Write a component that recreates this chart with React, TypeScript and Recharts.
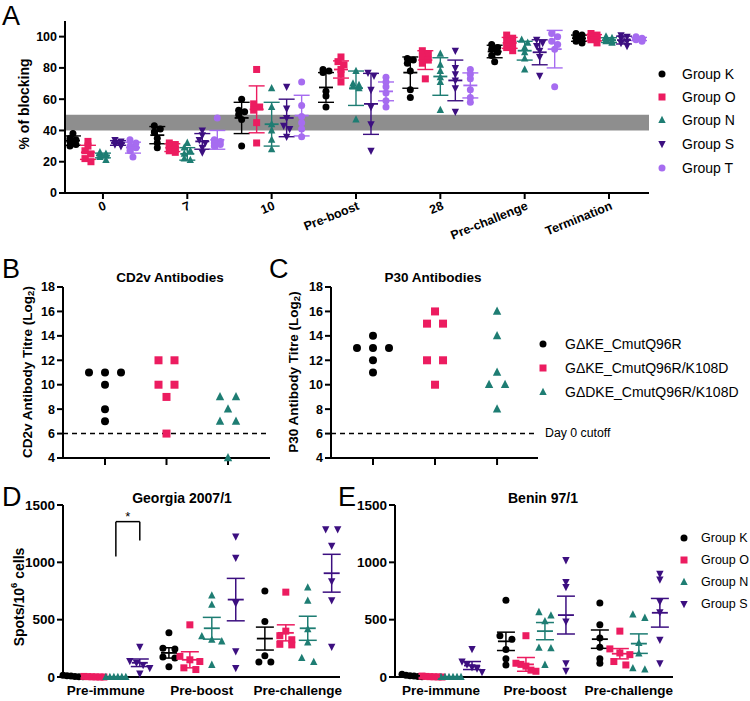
import React from 'react';
import { ScatterChart, Scatter, XAxis, YAxis, ErrorBar, ReferenceArea, ReferenceLine } from 'recharts';

const FONT = '"Liberation Sans", Arial, Helvetica, sans-serif';

// ---------------- Panel A : % of blocking ----------------
const blockTimepoints = ['0', '7', '10', 'Pre-boost', '28', 'Pre-challenge', 'Termination'];
const blockGroupNames = ['Group K', 'Group O', 'Group N', 'Group S', 'Group T'];

const blockK = [
  [38, 35, 34, 33, 31, 30],
  [43, 41, 39, 35, 32, 29],
  [60, 53, 52, 50, 47, 30],
  [79, 78, 77, 65, 62, 55],
  [86, 85, 83, 78, 66, 61],
  [95, 93, 92, 90, 88, 84],
  [102, 101, 100, 98, 97, 96],
];
const blockKMean = [33.5, 37, 48, 67.5, 77, 90.5, 99];
const blockKSd = [3, 5.5, 10, 9.5, 10, 4, 2];

const blockO = [
  [33, 30, 27, 25, 22, 20],
  [32, 31, 30, 28, 27, 26],
  [79, 57, 55, 53, 45, 32],
  [87, 84, 82, 79, 76, 71],
  [91, 89, 87, 85, 83, 73],
  [101, 99, 97, 95, 93, 91],
  [102, 101, 100, 99, 98, 96],
];
const blockOMean = [26, 29, 53.5, 79, 85, 96, 99.3];
const blockOSd = [4.5, 2.5, 15, 5.5, 6, 3.5, 2];

const blockN = [
  [26, 25, 24, 24, 23, 21],
  [32, 29, 27, 25, 22, 21],
  [67, 55, 44, 40, 34, 28],
  [78, 70, 69, 68, 67, 47],
  [89, 82, 78, 74, 71, 53],
  [98, 96, 93, 90, 86, 79],
  [100, 99, 98, 97, 97, 96],
];
const blockNMean = [24, 25, 44, 67, 74.5, 91, 97.8];
const blockNSd = [1.5, 4, 14, 11, 12, 6, 1.5];

const blockS = [
  [34, 33, 32, 31, 31, 30],
  [40, 37, 34, 32, 29, 26],
  [68, 54, 48, 43, 41, 36],
  [77, 75, 66, 55, 44, 27],
  [91, 80, 76, 72, 67, 52],
  [98, 96, 94, 91, 87, 75],
  [101, 100, 99, 97, 96, 94],
];
const blockSMean = [32, 33, 48, 57, 72, 90, 97.8];
const blockSSd = [1.5, 5, 12, 19.5, 13, 8, 2.5];

const blockT = [
  [34, 32, 30, 29, 27, 23],
  [48, 34, 33, 32, 31, 30],
  [71, 56, 49, 45, 41, 36],
  [74, 71, 68, 64, 59, 55],
  [79, 76, 73, 66, 61, 58],
  [102, 100, 97, 95, 92, 68],
  [100, 99, 99, 98, 98, 97],
];
const blockTMean = [29, 34, 49.5, 65, 68.8, 92, 98.5];
const blockTSd = [3.5, 6, 13, 6, 8, 12, 1];

const blockBand = [40, 50];

// ---------------- Panels B & C : antibody titres ----------------
const titreGroupNames = ['GΔKE_CmutQ96R', 'GΔKE_CmutQ96R/K108D', 'GΔDKE_CmutQ96R/K108D'];
const cd2vK = [11, 11, 11, 10, 8, 7];
const cd2vO = [12, 12, 10, 10, 9, 6];
const cd2vN = [9, 9, 8, 7, 7, 4];
const p30K = [14, 13, 13, 13, 12, 11];
const p30O = [16, 15, 15, 12, 12, 10];
const p30N = [16, 14, 11, 10, 10, 8];
const day0Cutoff = 6;

// ---------------- Panels D & E : ELISpot ----------------
const elispotStages = ['Pre-immune', 'Pre-boost', 'Pre-challenge'];
const elispotGroupNames = ['Group K', 'Group O', 'Group N', 'Group S'];

const georgiaK = [[15, 10, 8, 5, 3, 2], [385, 250, 245, 175, 165, 90], [750, 485, 185, 130, 130]];
const georgiaKMean = [7, 210, 335];
const georgiaKSem = [2, 45, 100];
const georgiaO = [[5, 3, 2, 1, 0, 0], [455, 180, 150, 135, 80, 65], [740, 400, 360, 325, 285, 280]];
const georgiaOMean = [2, 150, 385];
const georgiaOSem = [1, 70, 70];
const georgiaN = [[0, 0, 0, 0, 0, 0], [710, 630, 355, 325, 310, 105], [780, 665, 415, 300, 165, 130]];
const georgiaNMean = [0, 425, 425];
const georgiaNSem = [0, 95, 105];
const georgiaS = [[265, 140, 125, 105, 80, 30], [1225, 1040, 645, 225, 80], [1290, 1290, 1145, 835, 670, 265]];
const georgiaSMean = [124, 675, 905];
const georgiaSSem = [33, 185, 165];
const georgiaSig = { label: '*', leftLow: 1050, rightLow: 1190, top: 1355 };

const beninK = [[25, 15, 10, 8, 5, 3], [670, 360, 330, 240, 160, 105], [645, 455, 340, 260, 160, 120]];
const beninKMean = [10, 311, 330];
const beninKSem = [3, 80, 80];
const beninO = [[8, 5, 3, 2, 1, 0], [360, 120, 110, 95, 60, 50], [400, 245, 210, 195, 135, 105]];
const beninOMean = [3, 110, 203];
const beninOSem = [1, 60, 45];
const beninN = [[0, 0, 0, 0, 0, 0], [565, 535, 485, 255, 250, 105], [545, 515, 295, 205, 75, 65]];
const beninNMean = [0, 400, 291];
const beninNSem = [0, 75, 85];
const beninS = [[245, 135, 110, 85, 75, 45], [1020, 830, 785, 485, 120, 55], [900, 850, 660, 565, 325, 120]];
const beninSMean = [100, 540, 560];
const beninSSem = [35, 165, 125];

// ---------------- styles ----------------
type Shape = 'circle' | 'square' | 'up' | 'down';
const groupColors = ['#000000', '#ec1c60', '#1e7d73', '#3c0f80', '#a66cf0'];
const groupShapes: Shape[] = ['circle', 'square', 'up', 'down', 'circle'];

function Marker({ shape, cx, cy, size, color }: { shape: Shape; cx: number; cy: number; size: number; color: string }) {
  if (cx == null || cy == null || isNaN(cx) || isNaN(cy)) return null;
  const h = size / 2;
  if (shape === 'circle') return <circle cx={cx} cy={cy} r={h} fill={color} />;
  if (shape === 'square') return <rect x={cx - h} y={cy - h} width={size} height={size} fill={color} />;
  if (shape === 'up')
    return <polygon points={`${cx},${cy - size * 0.62} ${cx - h * 1.05},${cy + size * 0.42} ${cx + h * 1.05},${cy + size * 0.42}`} fill={color} />;
  return <polygon points={`${cx},${cy + size * 0.62} ${cx - h * 1.05},${cy - size * 0.42} ${cx + h * 1.05},${cy - size * 0.42}`} fill={color} />;
}

// layout helper: horizontal spreading of overlapping points (pixel offsets)
function spreadOffsets(vals: number[], tol: number, step: number, maxW: number, zigzag: boolean): number[] {
  const order = vals.map((_, i) => i).sort((a, b) => vals[b] - vals[a]);
  const out = vals.map(() => 0);
  let cluster: number[] = [];
  const flush = () => {
    const n = cluster.length;
    if (n > 1) {
      if (zigzag) {
        cluster.forEach((id, k) => (out[id] = (k % 2 === 0 ? -1 : 1) * step));
      } else {
        const s = Math.min(step, maxW / (n - 1));
        cluster.forEach((id, k) => (out[id] = (k - (n - 1) / 2) * s));
      }
    }
    cluster = [];
  };
  order.forEach((id) => {
    if (cluster.length && Math.abs(vals[cluster[cluster.length - 1]] - vals[id]) > tol) flush();
    cluster.push(id);
  });
  flush();
  return out;
}

const axisLine = { stroke: '#000', strokeWidth: 2 };
const tickLine = { stroke: '#000', strokeWidth: 2 };
const boldTick = (size: number) => ({ fontSize: size, fontWeight: 'bold', fill: '#000', fontFamily: FONT });

// ---------------- Panel A chart ----------------
const A_PX = 84.33;
const aGroupOffsets = [-30, -15, 0, 15, 30];
const aSeries = [blockK, blockO, blockN, blockS, blockT];
const aMeans = [blockKMean, blockOMean, blockNMean, blockSMean, blockTMean];
const aSds = [blockKSd, blockOSd, blockNSd, blockSSd, blockTSd];

const RotTick = (props: any) => {
  const { x, y, payload } = props;
  const tx = x + 4;
  const ty = y + 8;
  return (
    <text x={tx} y={ty} textAnchor="end" transform={`rotate(-22, ${tx}, ${ty})`} fontSize={12.5} fontWeight="bold" fontFamily={FONT} fill="#000">
      {blockTimepoints[payload.value]}
    </text>
  );
};

function PanelA() {
  const pointData = aSeries.map((series, g) =>
    series.flatMap((vals, t) => {
      const offs = spreadOffsets(vals, 2.5, 3, 6, true);
      return vals.map((v, i) => ({ x: t + (aGroupOffsets[g] + offs[i]) / A_PX, y: v }));
    })
  );
  const meanData = aMeans.map((means, g) => means.map((m, t) => ({ x: t + aGroupOffsets[g] / A_PX, y: m, err: aSds[g][t] })));
  return (
    <ScatterChart width={750} height={260} margin={{ top: 21, right: 101, bottom: 7, left: 8 }}>
      <XAxis type="number" dataKey="x" domain={[-0.45, 6.474]} ticks={[0, 1, 2, 3, 4, 5, 6]} interval={0}
        height={60} axisLine={axisLine} tickLine={tickLine} tickSize={6} tick={<RotTick />} />
      <YAxis type="number" dataKey="y" domain={[0, 110]} ticks={[0, 20, 40, 60, 80, 100]} interval={0}
        width={57} axisLine={axisLine} tickLine={tickLine} tick={boldTick(12.5)} />
      <ReferenceArea y1={blockBand[0]} y2={blockBand[1]} fill="#8e8e8e" fillOpacity={1} stroke="none" />
      {pointData.map((d, g) => (
        <Scatter key={'p' + g} data={d} isAnimationActive={false}
          shape={(p: any) => <Marker shape={groupShapes[g]} cx={p.cx} cy={p.cy} size={7} color={groupColors[g]} />} />
      ))}
      {meanData.map((d, g) => (
        <Scatter key={'m' + g} data={d} isAnimationActive={false}
          shape={(p: any) => <line x1={p.cx - 7} x2={p.cx + 7} y1={p.cy} y2={p.cy} stroke={groupColors[g]} strokeWidth={1.8} />}>
          <ErrorBar dataKey="err" direction="y" width={8} stroke={groupColors[g]} strokeWidth={1.4} isAnimationActive={false} />
        </Scatter>
      ))}
    </ScatterChart>
  );
}

// ---------------- Panels B / C ----------------
function TitreChart({ series, domainX, pxPerUnit, width }: { series: number[][]; domainX: [number, number]; pxPerUnit: number; width: number }) {
  const data = series.map((vals, g) => {
    const offs = spreadOffsets(vals, 0.01, 16, 34, false);
    return vals.map((v, i) => ({ x: g + offs[i] / pxPerUnit, y: v }));
  });
  return (
    <ScatterChart width={width} height={240} margin={{ top: 47, right: 0, bottom: 2, left: 0 }}>
      <XAxis type="number" dataKey="x" domain={domainX} ticks={[0, 1, 2]} interval={0} height={20}
        axisLine={axisLine} tickLine={tickLine} tickSize={7} tickFormatter={() => ''} />
      <YAxis type="number" dataKey="y" domain={[4, 18]} ticks={[4, 6, 8, 10, 12, 14, 16, 18]} interval={0}
        width={45} axisLine={axisLine} tickLine={tickLine} tick={boldTick(12.5)} />
      <ReferenceLine y={day0Cutoff} stroke="#000" strokeWidth={1.6} strokeDasharray="5 4" />
      {data.map((d, g) => (
        <Scatter key={g} data={d} isAnimationActive={false}
          shape={(p: any) => <Marker shape={groupShapes[g]} cx={p.cx} cy={p.cy} size={8} color={groupColors[g]} />} />
      ))}
    </ScatterChart>
  );
}

// ---------------- Panels D / E ----------------
function ElispotChart({ series, means, sems, domainX, pxPerUnit, offsets, width, marginLeft, marginRight, yWidth, sig }:
  { series: number[][][]; means: number[][]; sems: number[][]; domainX: [number, number]; pxPerUnit: number; offsets: number[];
    width: number; marginLeft: number; marginRight: number; yWidth: number; sig?: typeof georgiaSig }) {
  const pointData = series.map((cats, g) =>
    cats.flatMap((vals, c) => {
      const offs = spreadOffsets(vals, 35, 12, 20, false);
      return vals.map((v, i) => ({ x: c + (offsets[g] + offs[i]) / pxPerUnit, y: v }));
    })
  );
  const meanData = means.map((ms, g) => ms.map((m, c) => ({ x: c + offsets[g] / pxPerUnit, y: m, err: sems[g][c] })));
  const xN = offsets[2] / pxPerUnit;
  const xS = offsets[3] / pxPerUnit;
  return (
    <ScatterChart width={width} height={221} margin={{ top: 25, right: marginRight, bottom: 2, left: marginLeft }}>
      <XAxis type="number" dataKey="x" domain={domainX} ticks={[0, 1, 2]} interval={0} height={22}
        axisLine={axisLine} tickLine={false} tick={boldTick(13.5)} tickFormatter={(v: number) => elispotStages[v]} />
      <YAxis type="number" dataKey="y" domain={[0, 1500]} ticks={[0, 500, 1000, 1500]} interval={0}
        width={yWidth} axisLine={axisLine} tickLine={tickLine} tick={boldTick(13.5)} />
      {sig && (
        <ReferenceLine segment={[{ x: xN, y: sig.leftLow }, { x: xN, y: sig.top }]} stroke="#000" strokeWidth={1.5} />
      )}
      {sig && (
        <ReferenceLine segment={[{ x: xN, y: sig.top }, { x: xS, y: sig.top }]} stroke="#000" strokeWidth={1.5}
          label={{ value: sig.label, position: 'top', fontSize: 13, fill: '#000', fontFamily: FONT, offset: 1 }} />
      )}
      {sig && (
        <ReferenceLine segment={[{ x: xS, y: sig.rightLow }, { x: xS, y: sig.top }]} stroke="#000" strokeWidth={1.5} />
      )}
      {pointData.map((d, g) => (
        <Scatter key={'p' + g} data={d} isAnimationActive={false}
          shape={(p: any) => <Marker shape={groupShapes[g]} cx={p.cx} cy={p.cy} size={7} color={groupColors[g]} />} />
      ))}
      {meanData.map((d, g) => (
        <Scatter key={'m' + g} data={d} isAnimationActive={false}
          shape={(p: any) => <line x1={p.cx - 8} x2={p.cx + 8} y1={p.cy} y2={p.cy} stroke={groupColors[g]} strokeWidth={1.8} />}>
          <ErrorBar dataKey="err" direction="y" width={9} stroke={groupColors[g]} strokeWidth={1.5} isAnimationActive={false} />
        </Scatter>
      ))}
    </ScatterChart>
  );
}

// ---------------- overlay texts ----------------
function LegendRows({ names, x, gap, ys, fontSize, colorsIdx }: { names: string[]; x: number; gap: number; ys: number[]; fontSize: number; colorsIdx: number[] }) {
  return (
    <g>
      {names.map((n, i) => (
        <g key={n}>
          <Marker shape={groupShapes[colorsIdx[i]]} cx={x} cy={ys[i]} size={7} color={groupColors[colorsIdx[i]]} />
          <text x={x + gap} y={ys[i]} dominantBaseline="central" fontSize={fontSize} fontFamily={FONT} fill="#000">{n}</text>
        </g>
      ))}
    </g>
  );
}

function Overlay() {
  const letter = { fontSize: 27, fontFamily: FONT, fill: '#000' } as const;
  const bold = { fontWeight: 'bold', fontFamily: FONT, fill: '#000' } as const;
  return (
    <svg width={750} height={701} style={{ position: 'absolute', left: 0, top: 0, pointerEvents: 'none' }}>
      <text x={2} y={25} {...letter}>A</text>
      <text x={2} y={278} {...letter}>B</text>
      <text x={269} y={278} {...letter}>C</text>
      <text x={2} y={506} {...letter}>D</text>
      <text x={338} y={506} {...letter}>E</text>

      <text x={24} y={104} transform="rotate(-90, 24, 104)" textAnchor="middle" dominantBaseline="central" fontSize={14} {...bold}>% of blocking</text>
      <text x={27} y={372} transform="rotate(-90, 27, 372)" textAnchor="middle" dominantBaseline="central" fontSize={13.5} {...bold}>
        CD2v Antibody Titre (Log<tspan fontSize={9.5} dy={3}>2</tspan><tspan dy={-3}>)</tspan>
      </text>
      <text x={293} y={372} transform="rotate(-90, 293, 372)" textAnchor="middle" dominantBaseline="central" fontSize={13.5} {...bold}>
        P30 Antibody Titre (Log<tspan fontSize={9.5} dy={3}>2</tspan><tspan dy={-3}>)</tspan>
      </text>
      <text x={19} y={597} transform="rotate(-90, 19, 597)" textAnchor="middle" dominantBaseline="central" fontSize={14} {...bold}>
        Spots/10<tspan fontSize={9.5} dy={-6}>6</tspan><tspan dy={6}> cells</tspan>
      </text>

      <text x={170} y={282} textAnchor="middle" fontSize={13.5} {...bold}>CD2v Antibodies</text>
      <text x={433} y={282} textAnchor="middle" fontSize={13.5} {...bold}>P30 Antibodies</text>
      <text x={182} y={503} textAnchor="middle" fontSize={14} {...bold}>Georgia 2007/1</text>
      <text x={543} y={503} textAnchor="middle" fontSize={14} {...bold}>Benin 97/1</text>

      <LegendRows names={blockGroupNames} x={662} gap={20} ys={[74, 97, 120, 144, 168]} fontSize={14} colorsIdx={[0, 1, 2, 3, 4]} />
      <LegendRows names={titreGroupNames} x={543} gap={22} ys={[344, 368, 392]} fontSize={14} colorsIdx={[0, 1, 2]} />
      <text x={545} y={433} dominantBaseline="central" fontSize={12.3} fontFamily={FONT} fill="#000">Day 0 cutoff</text>
      <LegendRows names={elispotGroupNames} x={684} gap={17} ys={[538, 560, 582, 604]} fontSize={12.5} colorsIdx={[0, 1, 2, 3]} />
    </svg>
  );
}

export default function App() {
  return (
    <div style={{ position: 'absolute', left: 0, top: 0, width: 750, height: 701, background: '#fff', fontFamily: FONT, overflow: 'hidden' }}>
      <div style={{ position: 'absolute', left: 0, top: 0 }}>
        <PanelA />
      </div>
      <div style={{ position: 'absolute', left: 18, top: 240 }}>
        <TitreChart series={[cd2vK, cd2vO, cd2vN]} domainX={[-0.683, 2.683]} pxPerUnit={61.5} width={252} />
      </div>
      <div style={{ position: 'absolute', left: 286, top: 240 }}>
        <TitreChart series={[p30K, p30O, p30N]} domainX={[-0.677, 2.66]} pxPerUnit={62} width={252} />
      </div>
      <div style={{ position: 'absolute', left: 0, top: 480 }}>
        <ElispotChart series={[georgiaK, georgiaO, georgiaN, georgiaS]} means={[georgiaKMean, georgiaOMean, georgiaNMean, georgiaSMean]}
          sems={[georgiaKSem, georgiaOSem, georgiaNSem, georgiaSSem]} domainX={[-0.44, 2.44]} pxPerUnit={96.2}
          offsets={[-33, -12, 10, 34]} width={360} marginLeft={13} marginRight={20} yWidth={50} sig={georgiaSig} />
      </div>
      <div style={{ position: 'absolute', left: 330, top: 480 }}>
        <ElispotChart series={[beninK, beninO, beninN, beninS]} means={[beninKMean, beninOMean, beninNMean, beninSMean]}
          sems={[beninKSem, beninOSem, beninNSem, beninSSem]} domainX={[-0.49, 2.47]} pxPerUnit={93.9}
          offsets={[-29, -9, 10, 31]} width={420} marginLeft={32} marginRight={77} yWidth={33} />
      </div>
      <Overlay />
    </div>
  );
}
